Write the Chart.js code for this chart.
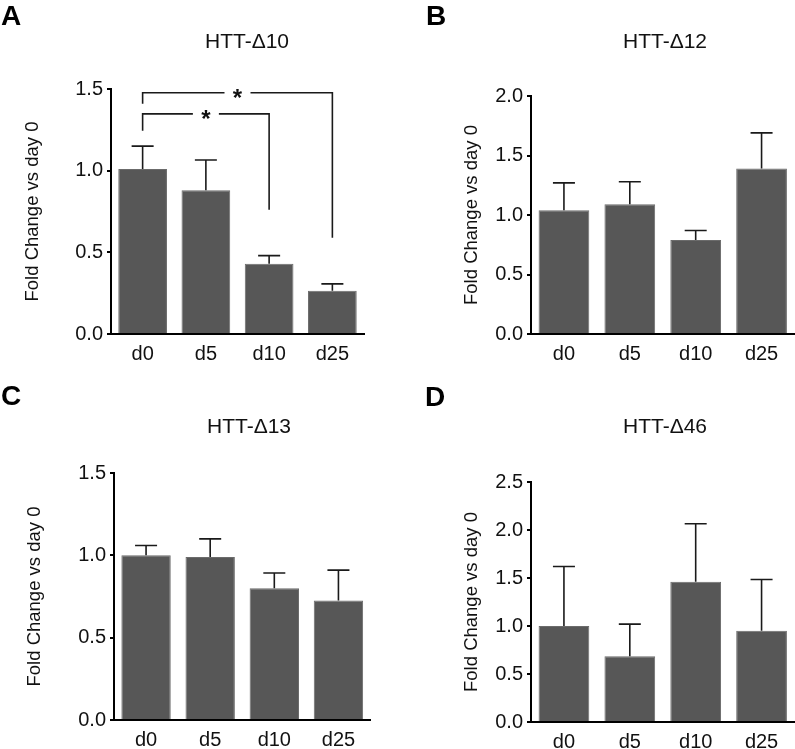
<!DOCTYPE html>
<html>
<head>
<meta charset="utf-8">
<script src="https://cdn.jsdelivr.net/npm/chart.js@4/dist/chart.umd.min.js"></script>
<style>
  body { margin: 0; background: #fff; }
  .panel { position: absolute; }
</style>
</head>
<body>
<div class="panel" style="left:0;top:0"><canvas id="chartA" width="400" height="370"></canvas></div>
<div class="panel" style="left:400px;top:0"><canvas id="chartB" width="395" height="370"></canvas></div>
<div class="panel" style="left:0;top:370px"><canvas id="chartC" width="400" height="379"></canvas></div>
<div class="panel" style="left:400px;top:370px"><canvas id="chartD" width="395" height="379"></canvas></div>
<script>
const days = ["d0", "d5", "d10", "d25"]

// mean fold change and upper error (SEM) per construct
const d10Mean = [1.01, 0.88, 0.43, 0.265]
const d10Err = [0.14, 0.185, 0.05, 0.042]
const d12Mean = [1.04, 1.09, 0.79, 1.39]
const d12Err = [0.23, 0.19, 0.08, 0.30]
const d13Mean = [1.0, 0.99, 0.80, 0.725]
const d13Err = [0.06, 0.11, 0.093, 0.185]
const d46Mean = [1.0, 0.685, 1.46, 0.95]
const d46Err = [0.62, 0.335, 0.605, 0.535]

// significance brackets for HTT-Δ10: [from, to, bar height, left leg end, right leg end]
const d10Brackets = [
    [0, 3, 1.477, 1.41, 0.59],
    [0, 2, 1.348, 1.245, 0.76],
]

Chart.defaults.font.family = "'Liberation Sans', Arial, Helvetica, sans-serif"
Chart.defaults.color = "#111"

const errorBars = {
    id: "errorBars",
    afterDatasetsDraw(chart, args, opts) {
        const ctx = chart.ctx
        const y = chart.scales.y
        const meta = chart.getDatasetMeta(0)
        ctx.save()
        ctx.strokeStyle = "#1a1a1a"
        ctx.lineWidth = 1.6
        meta.data.forEach((bar, i) => {
            const top = y.getPixelForValue(opts.means[i] + opts.errors[i])
            ctx.beginPath()
            ctx.moveTo(bar.x, bar.y)
            ctx.lineTo(bar.x, top)
            ctx.moveTo(bar.x - 11, top)
            ctx.lineTo(bar.x + 11, top)
            ctx.stroke()
        })
        ctx.restore()
    }
}

const brackets = {
    id: "brackets",
    afterDatasetsDraw(chart, args, opts) {
        if (!opts.list) return
        const ctx = chart.ctx
        const x = chart.scales.x
        const y = chart.scales.y
        ctx.save()
        ctx.strokeStyle = "#1a1a1a"
        ctx.lineWidth = 1.6
        ctx.fillStyle = "#111"
        ctx.font = "bold 24px 'Liberation Sans', Arial, sans-serif"
        ctx.textAlign = "center"
        ctx.textBaseline = "alphabetic"
        opts.list.forEach(b => {
            const x1 = x.getPixelForValue(b[0])
            const x2 = x.getPixelForValue(b[1])
            const yy = y.getPixelForValue(b[2])
            const mid = (x1 + x2) / 2
            ctx.beginPath()
            ctx.moveTo(x1, y.getPixelForValue(b[3]))
            ctx.lineTo(x1, yy)
            ctx.lineTo(mid - 13, yy)
            ctx.moveTo(mid + 13, yy)
            ctx.lineTo(x2, yy)
            ctx.lineTo(x2, y.getPixelForValue(b[4]))
            ctx.stroke()
            ctx.fillText("*", mid, yy + 13)
        })
        ctx.restore()
    }
}

const panelText = {
    id: "panelText",
    afterDraw(chart, args, opts) {
        const ctx = chart.ctx
        ctx.save()
        ctx.fillStyle = "#000"
        ctx.font = "bold 28px 'Liberation Sans', Arial, sans-serif"
        ctx.textBaseline = "alphabetic"
        ctx.fillText(opts.letter, opts.letterX, opts.letterY)
        ctx.fillStyle = "#111"
        ctx.font = "21px 'Liberation Sans', Arial, sans-serif"
        ctx.textAlign = "center"
        ctx.textBaseline = "middle"
        ctx.fillText(opts.title, opts.titleX, opts.titleY)
        ctx.restore()
    }
}

function makePanel(id, cfg) {
    return new Chart(document.getElementById(id), {
        type: "bar",
        data: {
            labels: days,
            datasets: [{
                data: cfg.means,
                backgroundColor: "#575757",
                borderColor: "#6b6b6b",
                borderWidth: 1,
                barPercentage: 0.77,
                categoryPercentage: 1,
            }]
        },
        options: {
            responsive: false,
            animation: false,
            devicePixelRatio: 1,
            layout: { padding: cfg.padding },
            plugins: {
                legend: { display: false },
                tooltip: { enabled: false },
                errorBars: { means: cfg.means, errors: cfg.errors },
                brackets: { list: cfg.brackets },
                panelText: cfg.text,
            },
            scales: {
                x: {
                    grid: { display: false, drawTicks: false },
                    border: { display: true, color: "#000", width: 2 },
                    ticks: { padding: 8, font: { size: 20 }, color: "#111" },
                    afterFit: s => { s.height = cfg.xHeight },
                },
                y: {
                    min: 0,
                    max: cfg.yMax,
                    grid: { drawOnChartArea: false, drawTicks: true, tickLength: 4, color: "#000", lineWidth: 2 },
                    border: { display: true, color: "#000", width: 2 },
                    ticks: { stepSize: 0.5, padding: 4, font: { size: 20 }, color: "#111", callback: v => v.toFixed(1) },
                    title: { display: true, text: "Fold Change vs day 0", font: { size: 18.5 }, color: "#111", padding: 0 },
                    afterFit: s => { s.width = cfg.yWidth },
                }
            }
        },
        plugins: [errorBars, brackets, panelText]
    })
}

makePanel("chartA", {
    means: d10Mean, errors: d10Err, brackets: d10Brackets, yMax: 1.5,
    padding: { left: 22, top: 89, right: 36, bottom: 0 }, yWidth: 89, xHeight: 36,
    text: { letter: "A", letterX: 1, letterY: 25, title: "HTT-Δ10", titleX: 247, titleY: 42 },
})
makePanel("chartB", {
    means: d12Mean, errors: d12Err, yMax: 2.0,
    padding: { left: 61, top: 96, right: 0.5, bottom: 0 }, yWidth: 70, xHeight: 36,
    text: { letter: "B", letterX: 26, letterY: 25, title: "HTT-Δ12", titleX: 265, titleY: 42 },
})
makePanel("chartC", {
    means: d13Mean, errors: d13Err, yMax: 1.5,
    padding: { left: 24, top: 103, right: 29.5, bottom: 0 }, yWidth: 90, xHeight: 29,
    text: { letter: "C", letterX: 1, letterY: 35, title: "HTT-Δ13", titleX: 249, titleY: 57 },
})
makePanel("chartD", {
    means: d46Mean, errors: d46Err, yMax: 2.5,
    padding: { left: 61, top: 112, right: 0.5, bottom: 0 }, yWidth: 70, xHeight: 27,
    text: { letter: "D", letterX: 25, letterY: 36, title: "HTT-Δ46", titleX: 265, titleY: 57 },
})
</script>
</body>
</html>
